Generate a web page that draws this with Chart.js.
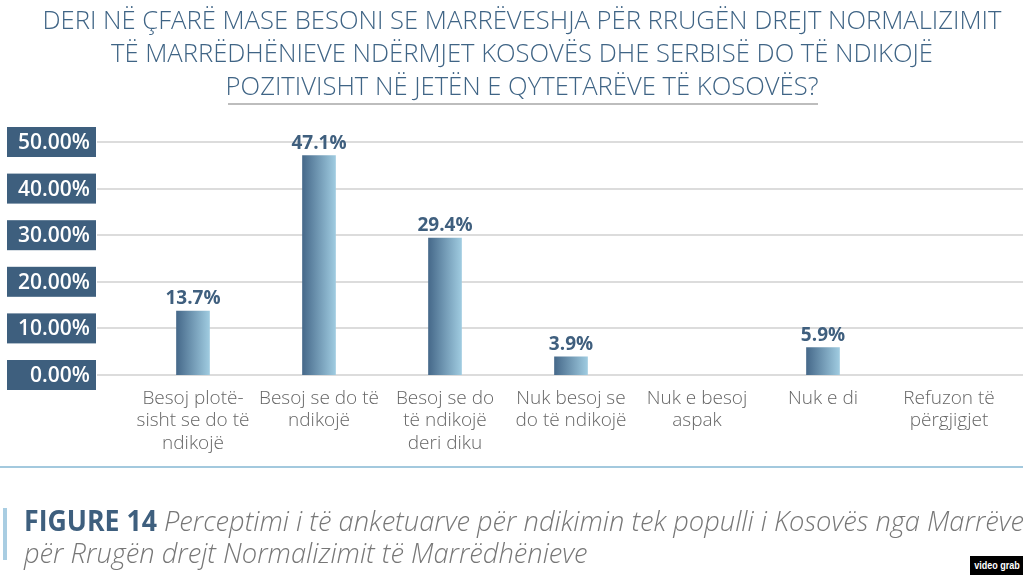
<!DOCTYPE html>
<html><head><meta charset="utf-8">
<script src="https://cdn.jsdelivr.net/npm/chart.js@4.4.1/dist/chart.umd.min.js"></script>
<style>
html,body{margin:0;padding:0;background:#fff;width:1023px;height:575px;overflow:hidden;position:relative;font-family:'Open Sans',sans-serif}
#c{position:absolute;left:0;top:0}
.tl{position:absolute;left:522px;white-space:nowrap;font-weight:300;font-size:26px;line-height:33px;color:#3f6485;transform-origin:center top}
#uline{position:absolute;left:228px;top:103px;width:590px;height:2px;background:#bdbdbd}
#sep{position:absolute;left:0;top:466px;width:1023px;height:2px;background:#a3c9de}
#vbar{position:absolute;left:3px;top:508px;width:4px;height:52px;background:#a9cde2}
.cap{position:absolute;left:24px;white-space:nowrap;font-size:28px;line-height:36px}
.fig{font-weight:700;color:#3e5f7e;display:inline-block;transform-origin:left top}
.it{font-style:italic;font-weight:300;color:#777;display:inline-block;transform-origin:left top}
#wm{position:absolute;left:970px;top:556px;width:53px;height:19px;background:#000;overflow:hidden}
#wm span{position:absolute;left:26.5px;top:0;white-space:nowrap;color:#fff;font:bold 11px 'Liberation Sans',Arial,sans-serif;line-height:19px;transform:translateX(-50%) scaleX(0.82)}
</style></head>
<body>
<canvas id="c" width="1023" height="575"></canvas>
<div class="tl" id="t1" style="top:3px">DERI NË ÇFARË MASE BESONI SE MARRËVESHJA PËR RRUGËN DREJT NORMALIZIMIT</div>
<div class="tl" id="t2" style="top:36px">TË MARRËDHËNIEVE NDËRMJET KOSOVËS DHE SERBISË DO TË NDIKOJË</div>
<div class="tl" id="t3" style="top:69px">POZITIVISHT NË JETËN E QYTETARËVE TË KOSOVËS?</div>
<div id="uline"></div>
<div id="sep"></div>
<div id="vbar"></div>
<div class="cap" style="top:502px"><span class="fig" id="fg">FIGURE 14</span> <span class="it" id="c1">Perceptimi i të anketuarve për ndikimin tek populli i Kosovës nga Marrëveshja</span></div>
<div class="cap" style="top:534px"><span class="it" id="c2">për Rrugën drejt Normalizimit të Marrëdhënieve</span></div>
<div id="wm"><span>video grab</span></div>
<script>
const categories = [
  ['Besoj plotë-','sisht se do të','ndikojë'],
  ['Besoj se do të','ndikojë'],
  ['Besoj se do','të ndikojë','deri diku'],
  ['Nuk besoj se','do të ndikojë'],
  ['Nuk e besoj','aspak'],
  ['Nuk e di'],
  ['Refuzon të','përgjigjet']
];
const values = [13.7, 47.1, 29.4, 3.9, 0, 5.9, 0];
const valueLabels = ['13.7%','47.1%','29.4%','3.9%','','5.9%',''];
const yTickLabels = ['0.00%','10.00%','20.00%','30.00%','40.00%','50.00%'];

// fit title/caption text widths
const mc = document.createElement('canvas').getContext('2d');
function natW(txt, font){ mc.font = font; return mc.measureText(txt).width; }
const tFont = '300 26px "Open Sans"';
const k = 959 / natW(document.getElementById('t1').textContent, tFont);
['t1','t2','t3'].forEach(id=>{
  document.getElementById(id).style.transform = 'translateX(-50%) scaleX(' + k + ')';
});
const figNat = natW('FIGURE 14', 'bold 28px "Open Sans"');
const fg = document.getElementById('fg');
fg.style.transform = 'scaleX(' + (133 / figNat) + ')';
fg.style.marginRight = (133 - figNat) + 'px';
const iFont = 'italic 300 28px "Open Sans"';
const kc = 860 / natW('Perceptimi i të anketuarve për ndikimin tek populli i Kosovës nga Marrëve', iFont);
['c1','c2'].forEach(id=>{
  document.getElementById(id).style.transform = 'scaleX(' + kc + ')';
});

const deco = {
  id: 'deco',
  beforeDatasetsDraw(chart){
    const ctx = chart.ctx, y = chart.scales.y, a = chart.chartArea;
    ctx.save();
    ctx.strokeStyle = '#dcdcdc'; ctx.lineWidth = 2;
    y.ticks.forEach(t=>{
      const py = Math.round(y.getPixelForValue(t.value));
      ctx.beginPath(); ctx.moveTo(a.left - 33, py); ctx.lineTo(chart.width, py); ctx.stroke();
    });
    y.ticks.forEach((t,i)=>{
      const py = y.getPixelForValue(t.value);
      ctx.fillStyle = '#3e5f7e';
      ctx.fillRect(7, py - 15, 89, 30);
      ctx.fillStyle = '#fff';
      ctx.font = '600 21px "Open Sans"';
      ctx.textAlign = 'right'; ctx.textBaseline = 'middle';
      ctx.fillText(yTickLabels[i], 90, py + 1);
    });
    ctx.restore();
  },
  afterDatasetsDraw(chart){
    const ctx = chart.ctx;
    const meta = chart.getDatasetMeta(0);
    ctx.save();
    ctx.fillStyle = '#3f5f7e';
    ctx.font = 'bold 19px "Open Sans"';
    ctx.textAlign = 'center'; ctx.textBaseline = 'alphabetic';
    meta.data.forEach((bar,i)=>{
      if (!valueLabels[i]) return;
      ctx.fillText(valueLabels[i], bar.x, bar.y - 7);
    });
    ctx.restore();
  }
};

new Chart(document.getElementById('c'), {
  type: 'bar',
  data: {
    labels: categories,
    datasets: [{
      data: values,
      barThickness: 33,
      borderWidth: 0,
      backgroundColor(ctx){
        const chart = ctx.chart;
        if (!ctx.raw) return 'rgba(0,0,0,0)';
        if (!chart.chartArea || !chart.scales.x) return '#6f93ae';
        const x = chart.scales.x.getPixelForValue(ctx.dataIndex);
        const g = chart.ctx.createLinearGradient(x - 16.5, 0, x + 16.5, 0);
        g.addColorStop(0, '#46698a');
        g.addColorStop(1, '#9fcbe0');
        return g;
      }
    }]
  },
  options: {
    responsive: false,
    animation: false,
    layout: { padding: { left: 130, right: 11, top: 142, bottom: 100 } },
    plugins: { legend: { display: false }, tooltip: { enabled: false } },
    scales: {
      y: { display: false, min: 0, max: 50, ticks: { stepSize: 10 } },
      x: {
        offset: true,
        grid: { display: false },
        border: { display: false },
        afterFit(s){ s.height = 100; },
        ticks: {
          padding: 5,
          color: '#666',
          maxRotation: 0,
          autoSkip: false,
          font: { family: 'Open Sans', size: 19, weight: '300', lineHeight: 1.16 }
        }
      }
    }
  },
  plugins: [deco]
});
</script>
</body></html>
